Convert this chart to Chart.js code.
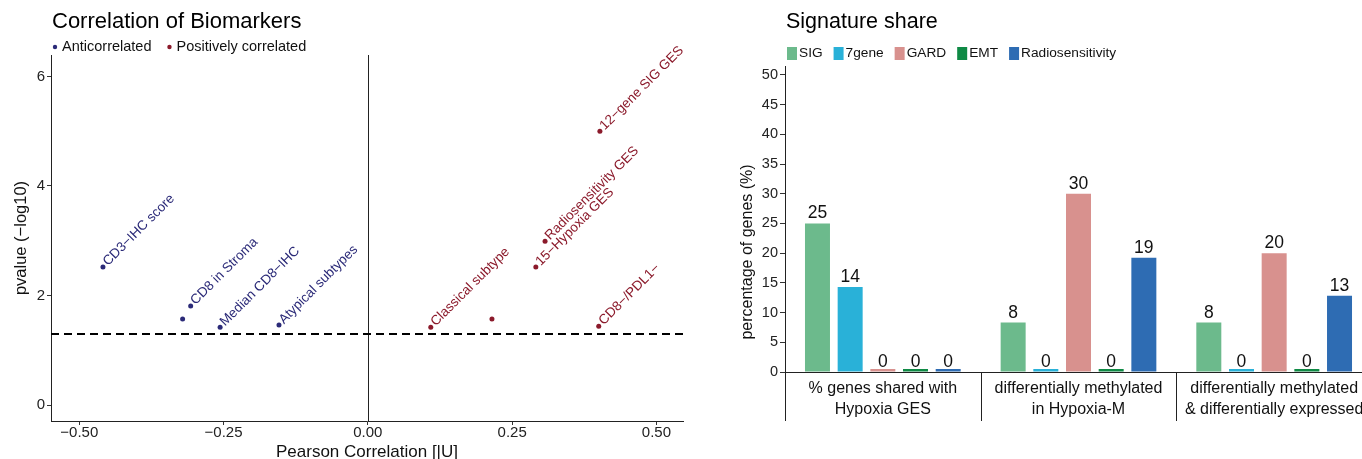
<!DOCTYPE html>
<html>
<head>
<meta charset="utf-8">
<script src="https://cdn.jsdelivr.net/npm/chart.js@4.4.1/dist/chart.umd.min.js"></script>
<style>
  body { margin: 0; background: #fff; width: 1362px; height: 459px; overflow: hidden; position: relative; }
  #left { position: absolute; left: 0; top: 0; }
  #right { position: absolute; left: 700px; top: 0; }
</style>
</head>
<body>
<canvas id="left" width="700" height="459"></canvas>
<canvas id="right" width="680" height="459"></canvas>
<script>
const FONT = "'Liberation Sans', Arial, sans-serif";
Chart.defaults.font.family = FONT;
Chart.defaults.color = "#1a1a1a";

// left panel - correlation of biomarkers
const antiLabels = ["CD3−IHC score", "CD8 in Stroma", "", "Median CD8−IHC", "Atypical subtypes"];
const antiX = [-0.459, -0.307, -0.321, -0.256, -0.154];
const antiY = [2.52, 1.81, 1.57, 1.42, 1.46];
const posLabels = ["12−gene SIG GES", "Radiosensitivity GES", "15−Hypoxia GES", "Classical subtype", "", "CD8−/PDL1−"];
const posX = [0.402, 0.307, 0.291, 0.109, 0.215, 0.400];
const posY = [5.0, 2.99, 2.52, 1.42, 1.57, 1.44];
const corrTicks = [-0.5, -0.25, 0, 0.25, 0.5];
const corrTickLabels = ["−0.50", "−0.25", "0.00", "0.25", "0.50"];
const pvalTicks = [0, 2, 4, 6];
const pCutoff = 1.3;

// right panel - signature share
const groups = [
  ["% genes shared with", "Hypoxia GES"],
  ["differentially methylated", "in Hypoxia-M"],
  ["differentially methylated", "& differentially expressed"]
];
const sigShare = [25, 8.33, 8.33];
const gene7Share = [14.29, 0, 0];
const gardShare = [0, 30, 20];
const emtShare = [0, 0, 0];
const radioShare = [0, 19.23, 12.82];
const shareTicks = [0, 5, 10, 15, 20, 25, 30, 35, 40, 45, 50];

const NAVY = "#2b2a78";
const DARKRED = "#8b1a2b";

function drawLegend(ctx, items, x, y, size, kind) {
  ctx.save();
  ctx.font = size + "px " + FONT;
  ctx.textBaseline = "middle";
  ctx.textAlign = "left";
  items.forEach(it => {
    ctx.fillStyle = it.color;
    let tx;
    if (kind === "dot") {
      ctx.beginPath();
      ctx.arc(x, y, 2.2, 0, Math.PI * 2);
      ctx.fill();
      tx = x + 7;
    } else {
      ctx.fillRect(x, y - 6, 10, 13);
      tx = x + 12;
    }
    ctx.fillStyle = "#111";
    ctx.fillText(it.text, tx, y);
    x = tx + ctx.measureText(it.text).width + (kind === "dot" ? 18 : 11);
  });
  ctx.restore();
}

function drawTitle(ctx, text, x, y, size) {
  ctx.save();
  ctx.font = size + "px " + FONT;
  ctx.fillStyle = "#000";
  ctx.textBaseline = "middle";
  ctx.fillText(text, x, y);
  ctx.restore();
}

const leftDecor = {
  id: "leftDecor",
  beforeDatasetsDraw(chart) {
    const {ctx, chartArea, scales} = chart;
    const x0 = scales.x.getPixelForValue(0);
    const yc = scales.y.getPixelForValue(pCutoff);
    ctx.save();
    ctx.strokeStyle = "#222";
    ctx.lineWidth = 1;
    ctx.beginPath();
    ctx.moveTo(Math.round(x0) + 0.5, chartArea.top);
    ctx.lineTo(Math.round(x0) + 0.5, chartArea.bottom);
    ctx.stroke();
    ctx.strokeStyle = "#000";
    ctx.lineWidth = 2;
    ctx.setLineDash([8, 5]);
    ctx.beginPath();
    ctx.moveTo(chartArea.left, yc);
    ctx.lineTo(chartArea.right, yc);
    ctx.stroke();
    ctx.restore();
  },
  afterDatasetsDraw(chart) {
    const ctx = chart.ctx;
    ctx.save();
    ctx.font = "13.5px " + FONT;
    ctx.textBaseline = "alphabetic";
    chart.data.datasets.forEach((ds, i) => {
      const meta = chart.getDatasetMeta(i);
      meta.data.forEach((pt, j) => {
        const txt = ds.pointLabels[j];
        if (!txt) return;
        ctx.save();
        ctx.translate(pt.x, pt.y);
        ctx.rotate(-Math.PI / 4);
        ctx.fillStyle = ds.backgroundColor;
        ctx.fillText(txt, 4, 3);
        ctx.restore();
      });
    });
    ctx.restore();
  },
  afterDraw(chart) {
    const ctx = chart.ctx;
    drawTitle(ctx, "Correlation of Biomarkers", 52, 22, 22);
    drawLegend(ctx, chart.data.datasets.map(d => ({text: d.label, color: d.backgroundColor})), 55, 47, 14.5, "dot");
  }
};

new Chart(document.getElementById("left"), {
  type: "scatter",
  data: {
    datasets: [
      {
        label: "Anticorrelated",
        data: antiX.map((x, i) => ({x: x, y: antiY[i]})),
        pointLabels: antiLabels,
        backgroundColor: NAVY,
        borderWidth: 0,
        pointRadius: 2.5
      },
      {
        label: "Positively correlated",
        data: posX.map((x, i) => ({x: x, y: posY[i]})),
        pointLabels: posLabels,
        backgroundColor: DARKRED,
        borderWidth: 0,
        pointRadius: 2.5
      }
    ]
  },
  options: {
    responsive: false,
    animation: false,
    layout: {padding: {top: 55, right: 17}},
    plugins: {legend: {display: false}, tooltip: {enabled: false}},
    scales: {
      x: {
        min: -0.549,
        max: 0.546,
        afterBuildTicks: s => { s.ticks = corrTicks.map(v => ({value: v})); },
        grid: {drawOnChartArea: false, tickLength: 4, color: "#333"},
        border: {color: "#222"},
        ticks: {
          padding: 0,
          font: {size: 15, lineHeight: 1},
          color: "#222",
          callback: (v, i) => corrTickLabels[i]
        },
        title: {display: true, text: "Pearson Correlation [|U]", font: {size: 17, lineHeight: 0.8}, padding: 0, color: "#111"},
        afterFit: s => { s.height = 38; }
      },
      y: {
        min: -0.29,
        max: 6.39,
        afterBuildTicks: s => { s.ticks = pvalTicks.map(v => ({value: v})); },
        grid: {drawOnChartArea: false, tickLength: 4, color: "#333"},
        border: {color: "#222"},
        ticks: {padding: 2, font: {size: 15}, color: "#222"},
        title: {display: true, text: "pvalue (−log10)", font: {size: 16.5, lineHeight: 1.2}, padding: {top: 12, bottom: 0}, color: "#111"},
        afterFit: s => { s.width = 51; }
      }
    }
  },
  plugins: [leftDecor]
});

const rightDecor = {
  id: "rightDecor",
  afterDatasetsDraw(chart) {
    const {ctx, scales} = chart;
    ctx.save();
    ctx.font = "17.5px " + FONT;
    ctx.fillStyle = "#111";
    ctx.textAlign = "center";
    ctx.textBaseline = "alphabetic";
    chart.data.datasets.forEach((ds, i) => {
      chart.getDatasetMeta(i).data.forEach((bar, j) => {
        const v = ds.data[j];
        ctx.fillText(String(Math.round(v)), bar.x, scales.y.getPixelForValue(v) - 5);
      });
    });
    ctx.restore();
  },
  afterDraw(chart) {
    const {ctx, chartArea, scales} = chart;
    // group separators below the axis
    ctx.save();
    ctx.strokeStyle = "#222";
    ctx.lineWidth = 1;
    const xs = [chartArea.left];
    for (let i = 1; i < groups.length; i++) {
      xs.push((scales.x.getPixelForValue(i - 1) + scales.x.getPixelForValue(i)) / 2);
    }
    xs.forEach(x => {
      ctx.beginPath();
      ctx.moveTo(Math.round(x) + 0.5, chartArea.bottom);
      ctx.lineTo(Math.round(x) + 0.5, 421);
      ctx.stroke();
    });
    ctx.restore();

    ctx.save();
    ctx.translate(48, 252);
    ctx.rotate(-Math.PI / 2);
    ctx.font = "16px " + FONT;
    ctx.fillStyle = "#111";
    ctx.textAlign = "center";
    ctx.textBaseline = "middle";
    ctx.fillText("percentage of genes (%)", 0, 0);
    ctx.restore();

    drawTitle(ctx, "Signature share", 86, 22, 21.5);
    drawLegend(ctx, chart.data.datasets.map(d => ({text: d.label, color: d.backgroundColor})), 87, 53, 13.7, "box");
  }
};

new Chart(document.getElementById("right"), {
  type: "bar",
  data: {
    labels: groups,
    datasets: [
      {label: "SIG", data: sigShare, backgroundColor: "#6cba8c"},
      {label: "7gene", data: gene7Share, backgroundColor: "#29b1d8"},
      {label: "GARD", data: gardShare, backgroundColor: "#d8918e"},
      {label: "EMT", data: emtShare, backgroundColor: "#0f8a45"},
      {label: "Radiosensitivity", data: radioShare, backgroundColor: "#2e6cb3"}
    ]
  },
  options: {
    responsive: false,
    animation: false,
    layout: {padding: {top: 66, right: 8}},
    datasets: {bar: {categoryPercentage: 0.835, barPercentage: 0.765, minBarLength: 3}},
    plugins: {legend: {display: false}, tooltip: {enabled: false}},
    scales: {
      x: {
        grid: {drawOnChartArea: false, drawTicks: false},
        border: {color: "#222"},
        ticks: {autoSkip: false, maxRotation: 0, minRotation: 0, padding: 6, font: {size: 16, lineHeight: 1.3}, color: "#111"},
        afterFit: s => { s.height = 87; }
      },
      y: {
        min: 0,
        max: 51.5,
        afterBuildTicks: s => { s.ticks = shareTicks.map(v => ({value: v})); },
        grid: {drawOnChartArea: false, tickLength: 5, color: "#333"},
        border: {color: "#222"},
        ticks: {padding: 2, font: {size: 14.5}, color: "#222"},
        afterFit: s => { s.width = 85; }
      }
    }
  },
  plugins: [rightDecor]
});
</script>
</body>
</html>
